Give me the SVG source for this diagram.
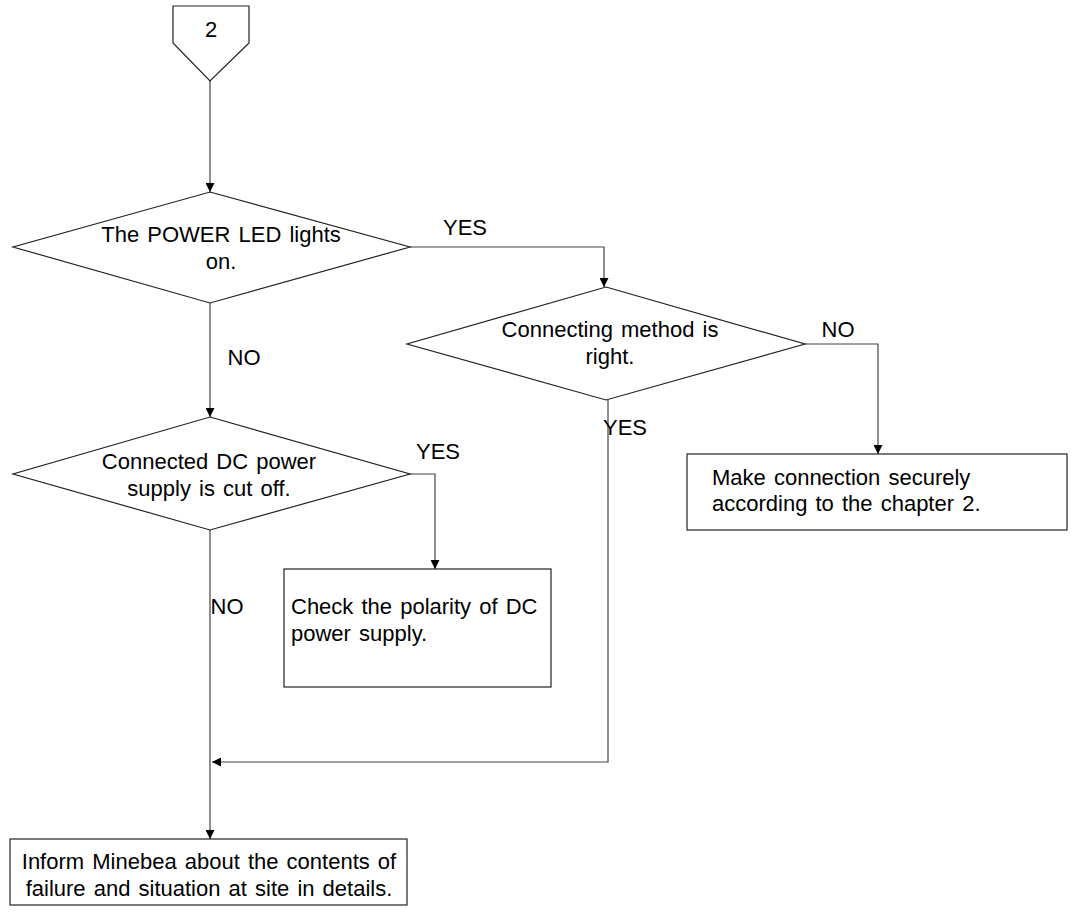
<svg xmlns="http://www.w3.org/2000/svg" width="1074" height="915" viewBox="0 0 1074 915">
<style>
.s{fill:#fff;stroke:#222;stroke-width:1.2}
.c{fill:none;stroke:#444;stroke-width:1.2}
text{font-family:"Liberation Sans",Arial,sans-serif;font-size:22px;word-spacing:2px;fill:#000}
.m{text-anchor:middle}
</style>
<defs>
<marker id="a" viewBox="0 0 10 10" refX="10" refY="5" markerWidth="9" markerHeight="9" markerUnits="userSpaceOnUse" orient="auto">
<path d="M0,0 L10,5 L0,10 Z" fill="#000"/>
</marker>
</defs>
<rect width="1074" height="915" fill="#fff"/>
<g id="connectors">
<path class="c" d="M210,81 V192" marker-end="url(#a)"/>
<path class="c" d="M410,247 H604 V287" marker-end="url(#a)"/>
<path class="c" d="M210,303 V417" marker-end="url(#a)"/>
<path class="c" d="M805,344 H878 V454" marker-end="url(#a)"/>
<path class="c" d="M410,474 H435 V569" marker-end="url(#a)"/>
<path class="c" d="M608,400 V762 H212" marker-end="url(#a)"/>
<path class="c" d="M210,530 V839" marker-end="url(#a)"/>
<text class="m" x="465" y="235">YES</text>
<text class="m" x="244" y="365">NO</text>
<text class="m" x="838" y="337">NO</text>
<text class="m" x="625" y="435">YES</text>
<text class="m" x="438" y="459">YES</text>
<text class="m" x="227" y="614">NO</text>
</g>
<g id="start">
<path class="s" d="M173,6 H249 V43 L210,81 L173,43 Z"/>
<text class="m" x="211" y="37">2</text>
</g>
<g id="d1">
<path class="s" d="M210,192 L410,247 L210,303 L13,247 Z"/>
<text class="m" x="221" y="242">The POWER LED lights</text>
<text class="m" x="221" y="269">on.</text>
</g>
<g id="d2">
<path class="s" d="M606,287 L805,344 L606,400 L407,344 Z"/>
<text class="m" x="610" y="337">Connecting method is</text>
<text class="m" x="610" y="364">right.</text>
</g>
<g id="d3">
<path class="s" d="M210,417 L410,474 L210,530 L13,474 Z"/>
<text class="m" x="209" y="469">Connected DC power</text>
<text class="m" x="209" y="496">supply is cut off.</text>
</g>
<g id="b1">
<rect class="s" x="284" y="569" width="267" height="118"/>
<text x="291" y="614">Check the polarity of DC</text>
<text x="291" y="641">power supply.</text>
</g>
<g id="b2">
<rect class="s" x="687" y="454" width="380" height="76"/>
<text x="712" y="485">Make connection securely</text>
<text x="712" y="511">according to the chapter 2.</text>
</g>
<g id="b3">
<rect class="s" x="10" y="839" width="397" height="66"/>
<text class="m" x="209" y="869">Inform Minebea about the contents of</text>
<text class="m" x="209" y="896">failure and situation at site in details.</text>
</g>
</svg>
